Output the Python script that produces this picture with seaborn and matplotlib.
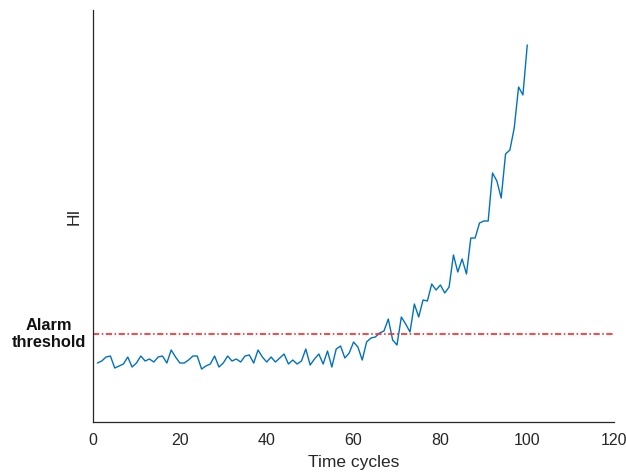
import numpy as np
import pandas as pd
import matplotlib
matplotlib.use('Agg')
import matplotlib.pyplot as plt
import seaborn as sns

# health indicator per time cycle (arbitrary units)
cycles = list(range(1, 101))
hi = [0.59, 0.61, 0.65, 0.66, 0.54, 0.56, 0.58, 0.65, 0.55, 0.59,
      0.66, 0.61, 0.63, 0.60, 0.65, 0.66, 0.59, 0.72, 0.65, 0.59,
      0.59, 0.62, 0.66, 0.66, 0.53, 0.56, 0.58, 0.66, 0.55, 0.59,
      0.66, 0.61, 0.63, 0.60, 0.66, 0.67, 0.59, 0.72, 0.65, 0.60,
      0.65, 0.60, 0.64, 0.68, 0.58, 0.62, 0.58, 0.61, 0.73, 0.57,
      0.63, 0.68, 0.58, 0.71, 0.55, 0.73, 0.76, 0.64, 0.69, 0.80,
      0.75, 0.62, 0.80, 0.84, 0.85, 0.89, 0.91, 1.03, 0.82, 0.77,
      1.05, 0.98, 0.90, 1.18, 1.05, 1.22, 1.21, 1.38, 1.32, 1.37,
      1.29, 1.35, 1.67, 1.50, 1.63, 1.48, 1.84, 1.84, 1.99, 2.01,
      2.01, 2.49, 2.41, 2.24, 2.68, 2.72, 2.94, 3.35, 3.27, 3.77]
threshold = 0.88
xticks = [0, 20, 40, 60, 80, 100, 120]

if __name__ == '__main__':
    sns.set_theme(style='white')
    plt.rcParams['font.family'] = ['Liberation Sans', 'DejaVu Sans']

    data = pd.DataFrame({'cycle': cycles, 'HI': hi})

    fig, ax = plt.subplots(figsize=(6.26, 4.76), dpi=100)
    fig.subplots_adjust(left=0.1486, right=0.981, bottom=0.1134, top=0.978)

    sns.lineplot(data=data, x='cycle', y='HI', ax=ax, color='#0072BD', linewidth=1.0)
    ax.axhline(threshold, color='#FF3030', linewidth=1.4, alpha=0.9,
               linestyle=(0, (3.2, 1.3, 0.8, 1.3)))

    ax.text(-0.0845, threshold, 'Alarm\nthreshold', transform=ax.get_yaxis_transform(),
            ha='center', va='center', multialignment='center', fontsize=11.8,
            fontweight='bold', color='#111111', linespacing=1.15)

    ax.set_xlim(0, 120)
    ax.set_ylim(0, 4.115)
    ax.set_xticks(xticks)
    ax.set_yticks([])
    ax.tick_params(axis='x', direction='in', length=4, width=0.8, color='#262626',
                   labelsize=11.5, labelcolor='#262626', pad=8)
    ax.set_xlabel('Time cycles', fontsize=12.5, color='#262626', labelpad=5)
    ax.set_ylabel('HI', fontsize=12.5, color='#262626', labelpad=8)

    sns.despine(ax=ax)
    for s in ['left', 'bottom']:
        ax.spines[s].set_color('#262626')
        ax.spines[s].set_linewidth(0.9)

    fig.savefig('out.png', dpi=100)
